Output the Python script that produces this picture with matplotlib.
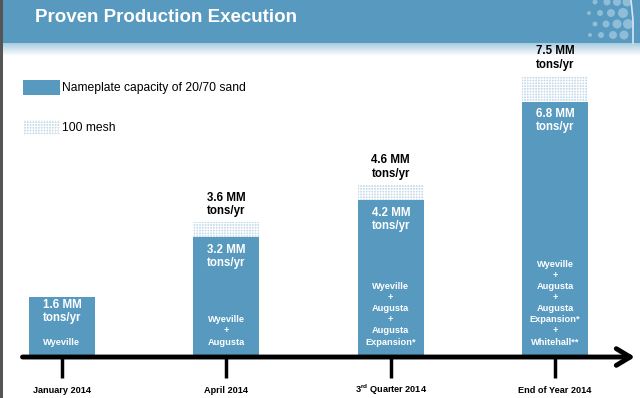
import numpy as np
import matplotlib
matplotlib.use("Agg")
import matplotlib.pyplot as plt
from matplotlib.patches import Rectangle, Circle

plt.rcParams['font.family'] = ['Liberation Sans', 'DejaVu Sans']
plt.rcParams['mathtext.fontset'] = 'custom'
plt.rcParams['mathtext.rm'] = 'Liberation Sans:bold'
plt.rcParams['mathtext.bf'] = 'Liberation Sans:bold'
plt.rcParams['hatch.linewidth'] = 0.7

# data
periods = ["January 2014", "April 2014", "3$^{\\mathrm{rd}}$ Quarter 2014", "End of Year 2014"]
sand = [1.6, 3.2, 4.2, 6.8]
mesh = [0.0, 0.4, 0.4, 0.7]
sand_labels = ["1.6 MM\ntons/yr", "3.2 MM\ntons/yr", "4.2 MM\ntons/yr", "6.8 MM\ntons/yr"]
total_labels = ["", "3.6 MM\ntons/yr", "4.6 MM\ntons/yr", "7.5 MM\ntons/yr"]
plants = ["Wyeville",
          "Wyeville\n+\nAugusta",
          "Wyeville\n+\nAugusta\n+\nAugusta\nExpansion*",
          "Wyeville\n+\nAugusta\n+\nAugusta\nExpansion*\n+\nWhitehall**"]

blue = '#5799bf'
mesh_face = '#c8dce9'
fig = plt.figure(figsize=(6.4, 3.98), dpi=100)

# background decoration in pixel coordinates
deco = fig.add_axes([0, 0, 1, 1])
deco.set_xlim(0, 640)
deco.set_ylim(398, 0)
deco.axis('off')
deco.add_patch(Rectangle((0, 0), 640, 43, color=blue, lw=0))
grad = np.linspace(0, 1, 50).reshape(-1, 1)
deco.imshow(grad, extent=(0, 640, 56, 43), cmap=matplotlib.colors.LinearSegmentedColormap.from_list('g', ['#a8cce0', 'white']), aspect='auto')
deco.add_patch(Rectangle((0, 0), 3, 398, color='#555555', lw=0))
deco.text(35, 17, "Proven Production Execution", color='white', fontsize=13.5,
          fontweight='bold', va='center', ha='left')
dots = [(595, 2, 2.5), (607, 2, 3.5), (617, 2, 4), (627, 2, 4.5),
        (589, 13, 2), (600, 13, 3), (611, 13, 4), (623, 13, 5),
        (595, 24, 2.5), (606, 24, 3.5), (617, 24, 4.5), (628, 24, 5),
        (590, 35, 2), (601, 35, 3), (613, 35, 4), (624, 35, 4.5)]
for x, y, r in dots:
    deco.add_patch(Circle((x, y), r, color='#8fbdd8', lw=0))
deco.plot([631, 633, 633], [0, 20, 43], color='#d6e8f2', lw=1.2)

# legend
deco.add_patch(Rectangle((23, 80), 37, 15, color=blue, lw=0))
deco.text(62, 88, "Nameplate capacity of 20/70 sand", fontsize=8.7, va='center')
deco.add_patch(Rectangle((23, 120), 37, 15, facecolor=mesh_face, edgecolor='white',
                         hatch='++++++', lw=0))
deco.text(62, 128, "100 mesh", fontsize=8.7, va='center')

# chart
ax = fig.add_axes([0, 0, 1, 1])
ax.set_facecolor('none')
ax.set_xlim(-0.377, 3.516)
ax.set_ylim(-1.093, 9.52)
ax.axis('off')
x = np.arange(len(periods))
w = 0.40
ax.bar(x, sand, width=w, color=blue, lw=0)
ax.bar(x, mesh, width=w, bottom=sand, facecolor=mesh_face, edgecolor='white',
       hatch='++++++', lw=0)

ax.annotate('', xy=(3.485, 0), xytext=(-0.24, 0),
            arrowprops=dict(arrowstyle='->,head_length=1.0,head_width=0.6',
                            lw=3.5, color='black', shrinkA=0, shrinkB=0))
top_pad = [2, 7, 7, 6]
for i in x:
    ax.plot([i, i], [0, -0.56], color='black', lw=2.5, solid_capstyle='butt')
    ax.text(i, -0.88, periods[i], ha='center', va='center', fontsize=6.6, fontweight='bold')
    ax.annotate(sand_labels[i], (i, sand[i]), xytext=(0, -top_pad[i]), textcoords='offset pixels',
                ha='center', va='top', color='white', fontsize=8.3, fontweight='bold', linespacing=1.15)
    ax.text(i, 0.28, plants[i], ha='center', va='bottom', color='white', fontsize=6.7,
            fontweight='bold', linespacing=1.3)
    if total_labels[i]:
        ax.annotate(total_labels[i], (i, sand[i] + mesh[i]), xytext=(0, 5), textcoords='offset pixels',
                    ha='center', va='bottom', color='black', fontsize=8.3, fontweight='bold', linespacing=1.15)

fig.savefig('out.png', dpi=100)
